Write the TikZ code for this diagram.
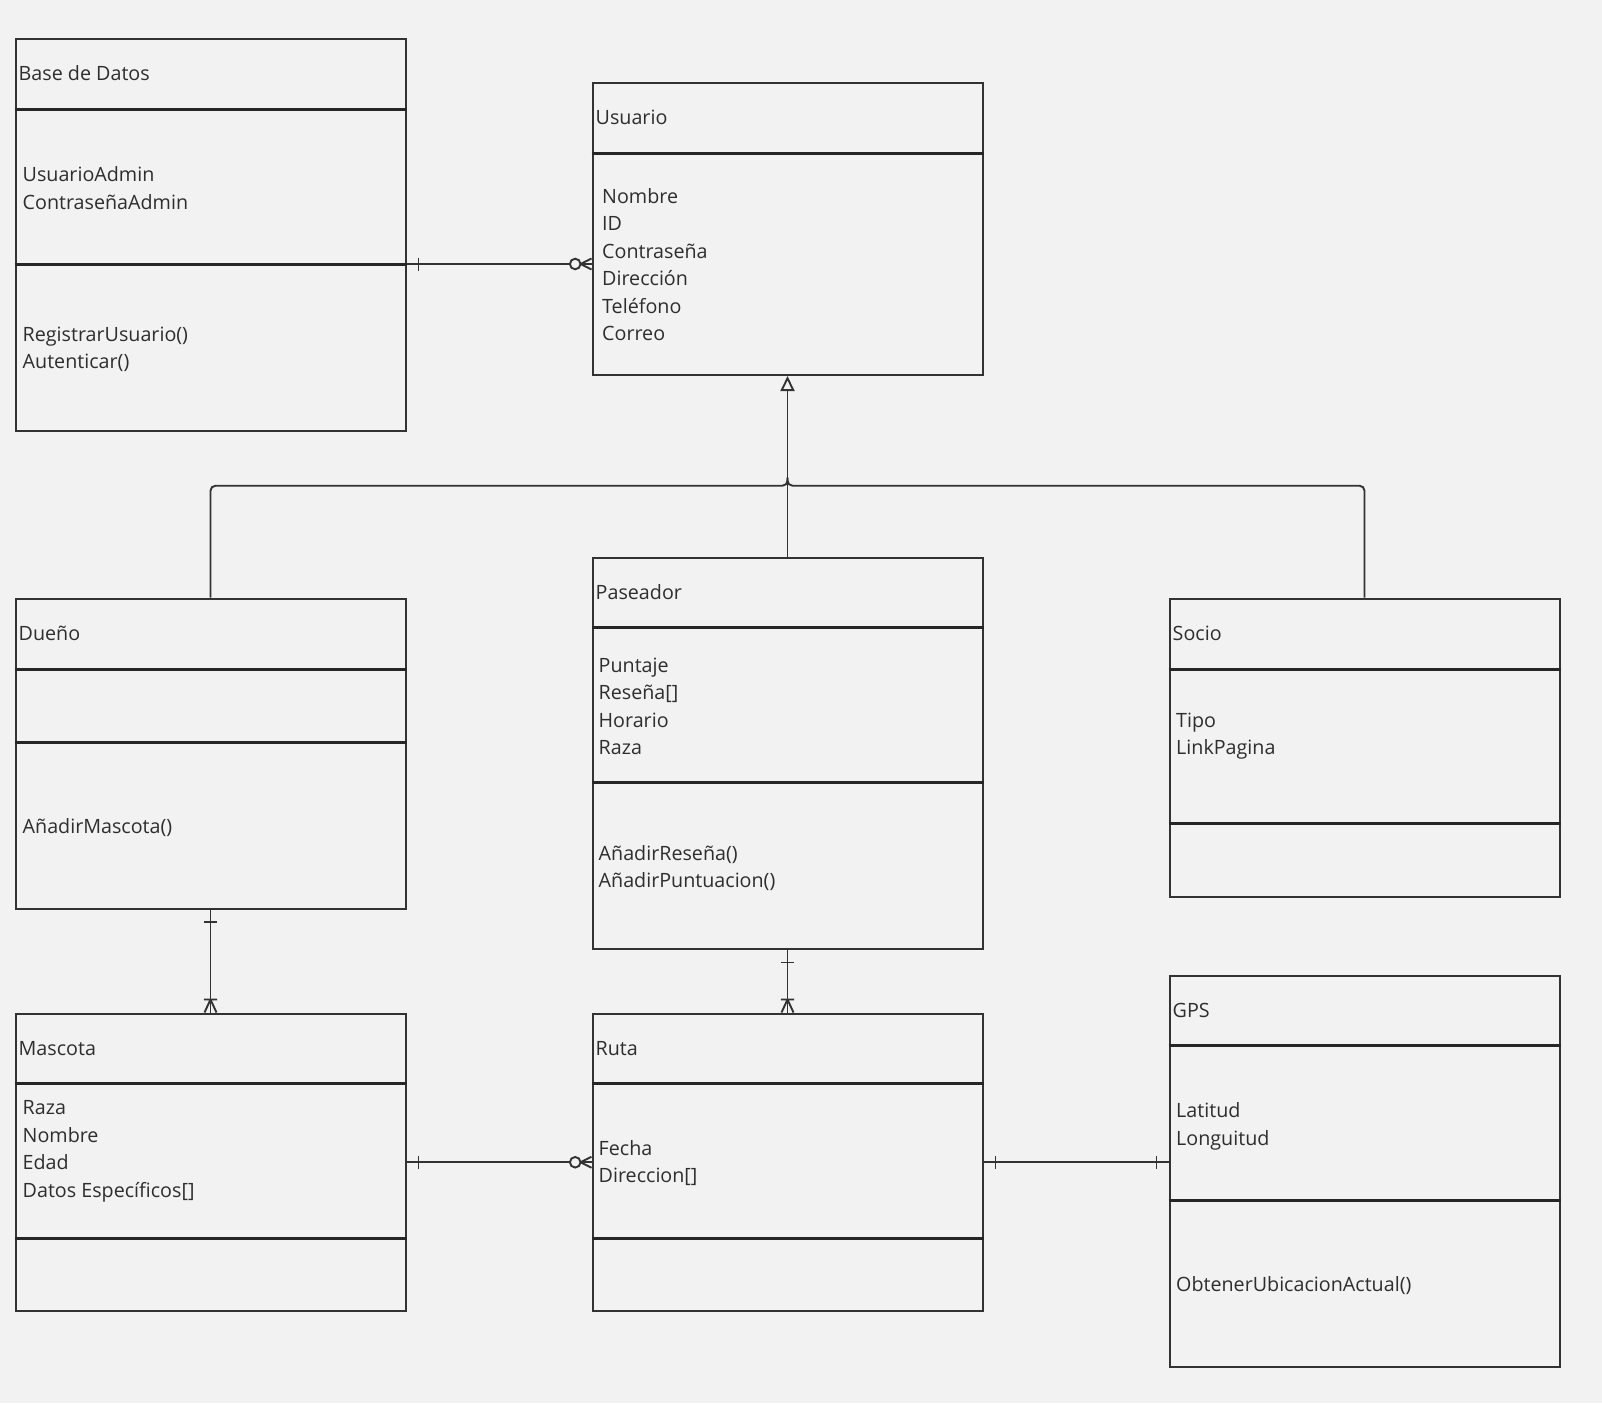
\documentclass[tikz,border=0pt]{standalone}
\usepackage{fontspec}
\setmainfont{Open Sans}
\usetikzlibrary{arrows.meta,calc}
\definecolor{bg}{HTML}{F2F2F2}
\definecolor{ink}{HTML}{333333}
\definecolor{rule}{HTML}{262626}
\definecolor{txtc}{HTML}{2E2E2E}
% one node per text line, baselines 27.5pt apart
\newcommand\textlines[4]{%
  \foreach \t [count=\i] in {#4}
    \node[lbl] (#1-\i) at (#2, #3+27.5*\i-27.5) {\t};}
\begin{document}
\begin{tikzpicture}[x=1pt,y=-1pt,
  classbox/.style={draw=ink, line width=2pt, fill=bg, rectangle, inner sep=0pt,
    anchor=north west, minimum width=390pt},
  sepline/.style={draw=rule, line width=3pt},
  conn/.style={draw=ink, line width=1.9pt},
  lbl/.style={text=txtc, inner sep=0pt, anchor=base west,
    font=\fontsize{19.7}{27.5}\selectfont},
  pics/tickV/.style={code={\draw[conn] (0,-6.5) -- (0,6.5);}},
  pics/tickH/.style={code={\draw[conn] (-6.5,0) -- (6.5,0);}},
  pics/crowzero/.style={code={
    \draw[conn] (-11,0) -- (0,-5.5) (-11,0) -- (0,5.5);
    \draw[conn, fill=bg] (-16.3,0) circle (5.3);}},
  pics/crowone/.style={code={
    \draw[conn] (0,-13) -- (-6,0) (0,-13) -- (6,0) (-6.7,-13) -- (6.7,-13);}}
]
\fill[bg] (0,0) rectangle (1602,1403);
\useasboundingbox (0,0) rectangle (1602,1403);

% class boxes
\node[classbox, minimum height=392.5pt] (base) at (14.5,37.5) {};
\node[classbox, minimum height=292.5pt] (usuario) at (591.5,81.5) {};
\node[classbox, minimum height=310pt] (dueno) at (14.5,597.5) {};
\node[classbox, minimum height=391pt] (paseador) at (591.5,557) {};
\node[classbox, minimum height=298.5pt] (socio) at (1168.5,597.5) {};
\node[classbox, minimum height=297.5pt] (mascota) at (14.5,1012.5) {};
\node[classbox, minimum height=297.5pt] (ruta) at (591.5,1012.5) {};
\node[classbox, minimum height=391.5pt] (gps) at (1168.5,974.5) {};

% compartment separators
\foreach \b/\d in {base/71.5, base/226.5, usuario/71.5, dueno/71.5, dueno/144.5,
                   paseador/70.5, paseador/225.5, socio/71.5, socio/226,
                   mascota/70.5, mascota/226, ruta/70.5, ruta/226,
                   gps/70.5, gps/226}
  \draw[sepline] ($(\b.north west)+(0,\d)$) -- ($(\b.north east)+(0,\d)$);

% class names
\node[lbl] (base-n) at (18.5,80.5) {Base de Datos};
\node[lbl] (usuario-n) at (595.5,124.3) {Usuario};
\node[lbl] (dueno-n) at (18.5,640.3) {Dueño};
\node[lbl] (paseador-n) at (595.5,599.6) {Paseador};
\node[lbl] (socio-n) at (1172.5,640.3) {Socio};
\node[lbl] (mascota-n) at (18.5,1055.2) {Mascota};
\node[lbl] (ruta-n) at (595.5,1055.2) {Ruta};
\node[lbl] (gps-n) at (1172.5,1017.4) {GPS};

% attributes and methods
\textlines{base-a}{22.5}{181.7}{UsuarioAdmin, ContraseñaAdmin}
\textlines{base-m}{22.5}{341}{RegistrarUsuario(), Autenticar()}
\textlines{usuario-a}{602}{203.3}{Nombre, ID, Contraseña, Dirección, Teléfono, Correo}
\textlines{dueno-m}{22.5}{833.5}{AñadirMascota()}
\textlines{paseador-a}{598.5}{672.1}{Puntaje, Reseña[], Horario, Raza}
\textlines{paseador-m}{598.5}{860.1}{AñadirReseña(), AñadirPuntuacion()}
\textlines{socio-a}{1176}{727.3}{Tipo, LinkPagina}
\textlines{mascota-a}{22.5}{1114.5}{Raza, Nombre, Edad, Datos Específicos[]}
\textlines{ruta-a}{598.5}{1155.4}{Fecha, Direccion[]}
\textlines{gps-a}{1176}{1117.6}{Latitud, Longuitud}
\textlines{gps-m}{1176}{1291.3}{ObtenerUbicacionActual()}

% generalization tree
\coordinate (hub) at (usuario.south |- 0,485.7);
\draw[conn, rounded corners=5pt] (dueno.north) |- (hub) -- ($(hub)+(0,-8)$);
\draw[conn, rounded corners=5pt] (socio.north) |- (hub) -- ($(hub)+(0,-8)$);
\draw[conn, -{Triangle[open, length=15pt, width=14pt]}]
  (paseador.north) -- (usuario.south);

% Base de Datos -- Usuario
\coordinate (bu) at ($(base.north east)+(0,226.5)$);
\draw[conn] (bu) -- (bu -| usuario.west);
\pic at ($(bu)+(12,0)$) {tickV};
\pic at (bu -| usuario.west) {crowzero};

% Dueño -- Mascota
\draw[conn] (dueno.south) -- (mascota.north);
\pic at ($(dueno.south)+(0,12.5)$) {tickH};
\pic at (mascota.north) {crowone};

% Paseador -- Ruta
\draw[conn] (paseador.south) -- (ruta.north);
\pic at ($(paseador.south)+(0,12.5)$) {tickH};
\pic at (ruta.north) {crowone};

% Mascota -- Ruta
\draw[conn] (mascota.east) -- (ruta.west);
\pic at ($(mascota.east)+(12,0)$) {tickV};
\pic at (ruta.west) {crowzero};

% Ruta -- GPS
\draw[conn] (ruta.east) -- (ruta.east -| gps.west);
\pic at ($(ruta.east)+(12,0)$) {tickV};
\pic at ($(ruta.east -| gps.west)+(-12,0)$) {tickV};
\end{tikzpicture}
\end{document}
